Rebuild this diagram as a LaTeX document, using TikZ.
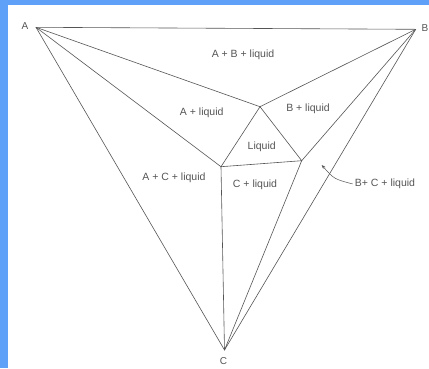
\documentclass[tikz,border=0pt]{standalone}
\usepackage{fontspec}
\setmainfont{Liberation Sans}
\usetikzlibrary{arrows.meta}
\definecolor{mygray}{RGB}{85,85,85}
\definecolor{myblue}{RGB}{95,160,248}
\tikzset{
  edge/.style={color=mygray, line width=0.6pt},
  region/.style={font=\fontsize{10.5}{12}\selectfont, text=mygray, inner sep=0pt},
  vlabel/.style={font=\fontsize{10}{12}\selectfont, text=mygray, inner sep=0pt},
  arrow/.style={-{Stealth[length=4pt, width=3pt]}, color=mygray, line width=0.5pt}
}
\begin{document}
\begin{tikzpicture}[x=1pt, y=-1pt]
  % frame
  \useasboundingbox (0,0) rectangle (429,368);
  \fill[white] (0,0) rectangle (429,368);
  \fill[myblue] (0,0) rectangle (429,5);
  \fill[myblue] (0,0) rectangle (8,368);

  % corners and inner points
  \coordinate (a) at (36,27.3);
  \coordinate (b) at (415.7,29.3);
  \coordinate (c) at (224.5,350);
  \coordinate (p1) at (260,106.7);
  \coordinate (p2) at (221,166.7);
  \coordinate (p3) at (301.7,160.7);

  % corner labels
  \node[vlabel] (la) at (25,26) {A};
  \node[vlabel] (lb) at (425,28.3) {B};
  \node[vlabel] (lc) at (223.5,361.5) {C};

  % outer triangle
  \draw[edge] (a) -- (b) -- (c) -- cycle;
  % boundary lines
  \draw[edge] (a) -- (p1);
  \draw[edge] (a) -- (p2);
  \draw[edge] (b) -- (p1);
  \draw[edge] (b) -- (p3);
  \draw[edge] (p2) -- (c);
  \draw[edge] (p3) -- (c);
  % liquid triangle
  \draw[edge] (p1) -- (p2) -- (p3) -- cycle;

  % region labels
  \node[region] (abl) at (243,55) {A + B + liquid};
  \node[region] (al) at (201.7,112.3) {A + liquid};
  \node[region] (bl) at (308,108.3) {B + liquid};
  \node[region] (liq) at (261.7,146.7) {Liquid};
  \node[region] (acl) at (174,177.7) {A + C + liquid};
  \node[region] (cl) at (255,184.3) {C + liquid};
  \node[region] (bcl) at (385,184) {B+ C + liquid};

  \coordinate (tip) at (321.7,165);
  \draw[arrow] ([xshift=-2pt]bcl.west) .. controls (334,179) .. (tip);
\end{tikzpicture}
\end{document}
